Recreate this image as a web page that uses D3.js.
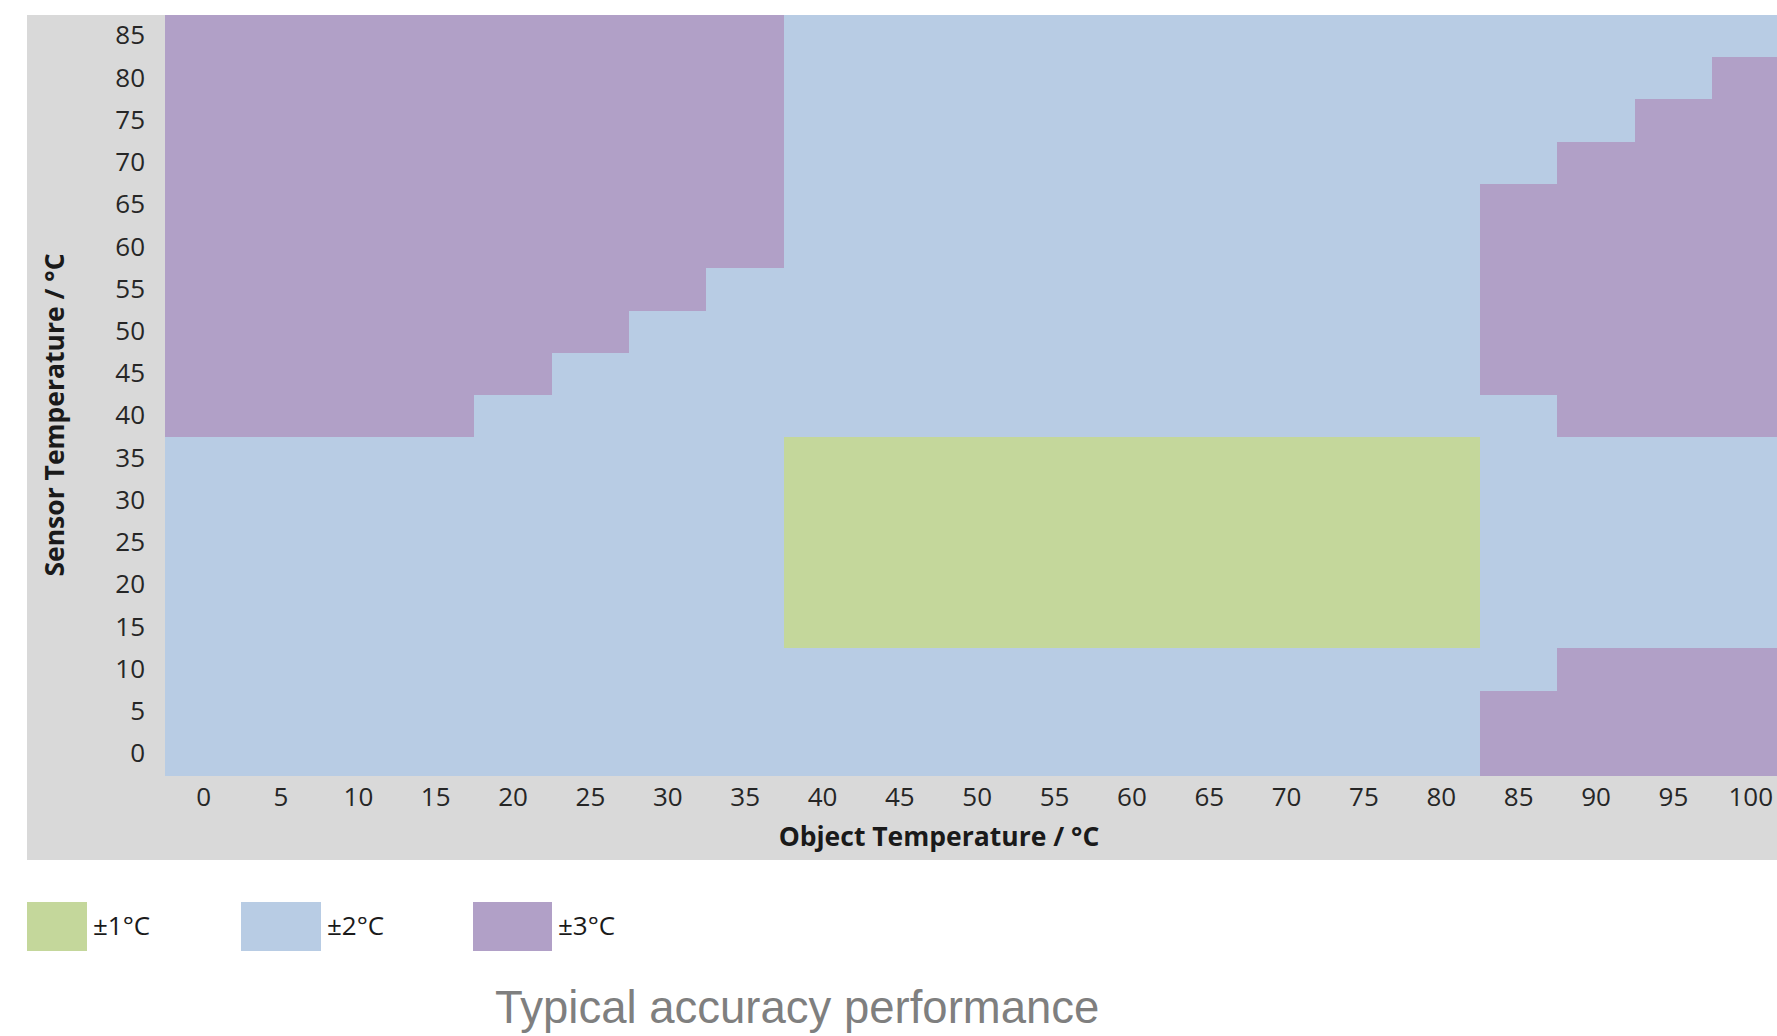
<!DOCTYPE html>
<html>
<head>
<meta charset="utf-8">
<script src="https://cdn.jsdelivr.net/npm/d3@7"></script>
<style>
  body { margin: 0; background: #fff; }
</style>
</head>
<body>
<div class="container"></div>
<script>
var objectTemps = [0, 5, 10, 15, 20, 25, 30, 35, 40, 45, 50, 55, 60, 65, 70, 75, 80, 85, 90, 95, 100];
var sensorTemps = [0, 5, 10, 15, 20, 25, 30, 35, 40, 45, 50, 55, 60, 65, 70, 75, 80, 85];

// accuracy class (1 = ±1°C, 2 = ±2°C, 3 = ±3°C), one row per sensor temperature, top row first
var row85 = [3,3,3,3,3,3,3,3, 2,2,2,2,2,2,2,2,2, 2,2,2,2];
var row80 = [3,3,3,3,3,3,3,3, 2,2,2,2,2,2,2,2,2, 2,2,2,3];
var row75 = [3,3,3,3,3,3,3,3, 2,2,2,2,2,2,2,2,2, 2,2,3,3];
var row70 = [3,3,3,3,3,3,3,3, 2,2,2,2,2,2,2,2,2, 2,3,3,3];
var row65 = [3,3,3,3,3,3,3,3, 2,2,2,2,2,2,2,2,2, 3,3,3,3];
var row60 = [3,3,3,3,3,3,3,3, 2,2,2,2,2,2,2,2,2, 3,3,3,3];
var row55 = [3,3,3,3,3,3,3,2, 2,2,2,2,2,2,2,2,2, 3,3,3,3];
var row50 = [3,3,3,3,3,3,2,2, 2,2,2,2,2,2,2,2,2, 3,3,3,3];
var row45 = [3,3,3,3,3,2,2,2, 2,2,2,2,2,2,2,2,2, 3,3,3,3];
var row40 = [3,3,3,3,2,2,2,2, 2,2,2,2,2,2,2,2,2, 2,3,3,3];
var row35 = [2,2,2,2,2,2,2,2, 1,1,1,1,1,1,1,1,1, 2,2,2,2];
var row30 = [2,2,2,2,2,2,2,2, 1,1,1,1,1,1,1,1,1, 2,2,2,2];
var row25 = [2,2,2,2,2,2,2,2, 1,1,1,1,1,1,1,1,1, 2,2,2,2];
var row20 = [2,2,2,2,2,2,2,2, 1,1,1,1,1,1,1,1,1, 2,2,2,2];
var row15 = [2,2,2,2,2,2,2,2, 1,1,1,1,1,1,1,1,1, 2,2,2,2];
var row10 = [2,2,2,2,2,2,2,2, 2,2,2,2,2,2,2,2,2, 2,3,3,3];
var row5  = [2,2,2,2,2,2,2,2, 2,2,2,2,2,2,2,2,2, 3,3,3,3];
var row0  = [2,2,2,2,2,2,2,2, 2,2,2,2,2,2,2,2,2, 3,3,3,3];

var accuracyRows = [row85, row80, row75, row70, row65, row60, row55, row50, row45,
                    row40, row35, row30, row25, row20, row15, row10, row5, row0];

var legendLabels = ['±1°C', '±2°C', '±3°C'];
var titleText = 'Typical accuracy performance';

buildChart();

function buildChart() {

  /* ===== SET UP CHART =====*/

  var w = 1777, h = 1036;
  var plot = {left: 165, right: 1789.4, top: 15, bottom: 775};
  var colors = {1: '#C4D79B', 2: '#B8CCE4', 3: '#B1A0C7'};

  var svg = d3.select('.container')
    .append('svg')
    .attr('width', w)
    .attr('height', h)
    .style('display', 'block');

  // grey chart area
  svg.append('rect')
    .attr('x', 27)
    .attr('y', 15)
    .attr('width', w - 27)
    .attr('height', 860 - 15)
    .attr('fill', '#D9D9D9');

  var xScale = d3.scaleBand()
    .domain(objectTemps)
    .range([plot.left, plot.right]);

  var yScale = d3.scaleBand()
    .domain(sensorTemps)
    .range([plot.bottom, plot.top]);

  /* ===== CELLS =====*/

  var cells = [];
  accuracyRows.forEach(function(row, i) {
    var s = sensorTemps[sensorTemps.length - 1 - i];
    row.forEach(function(level, j) {
      cells.push({obj: objectTemps[j], sensor: s, level: level});
    });
  });

  svg.append('g')
    .selectAll('rect')
    .data(cells)
    .enter()
    .append('rect')
    .attr('x', function(d) { return xScale(d.obj); })
    .attr('y', function(d) { return yScale(d.sensor); })
    .attr('width', xScale.bandwidth() + 0.6)
    .attr('height', yScale.bandwidth() + 0.6)
    .attr('shape-rendering', 'crispEdges')
    .attr('fill', function(d) { return colors[d.level]; });

  /* ===== AXES =====*/

  var xAxis = d3.axisBottom(xScale).tickSize(0).tickPadding(13);
  var yAxis = d3.axisLeft(yScale).tickSize(0).tickPadding(20);

  var gx = svg.append('g')
    .attr('transform', 'translate(0,' + plot.bottom + ')')
    .call(xAxis);

  var gy = svg.append('g')
    .attr('transform', 'translate(' + plot.left + ',0)')
    .call(yAxis);

  [gx, gy].forEach(function(g) {
    g.select('.domain').remove();
    g.selectAll('text')
      .style('font-family', '"Open Sans", sans-serif')
      .style('font-size', '26px')
      .attr('fill', '#262626');
  });

  /* ===== LABELS =====*/

  svg.append('text')
    .attr('x', 939)
    .attr('y', 837)
    .attr('dy', '0.35em')
    .style('text-anchor', 'middle')
    .style('font-family', '"Open Sans", sans-serif')
    .style('font-weight', 'bold')
    .style('font-size', '26.5px')
    .attr('fill', '#1a1a1a')
    .text('Object Temperature / °C');

  svg.append('text')
    .attr('transform', 'translate(55,415) rotate(-90)')
    .attr('dy', '0.35em')
    .style('text-anchor', 'middle')
    .style('font-family', '"Open Sans", sans-serif')
    .style('font-weight', 'bold')
    .style('font-size', '26.5px')
    .attr('fill', '#1a1a1a')
    .text('Sensor Temperature / °C');

  /* ===== LEGEND =====*/

  var legendBoxes = [{x: 27, w: 60}, {x: 241, w: 80}, {x: 473, w: 79}];

  var legend = svg.selectAll('.legend')
    .data(legendLabels)
    .enter()
    .append('g')
    .attr('class', 'legend');

  legend.append('rect')
    .attr('x', function(d, i) { return legendBoxes[i].x; })
    .attr('y', 902)
    .attr('width', function(d, i) { return legendBoxes[i].w; })
    .attr('height', 49)
    .attr('fill', function(d, i) { return colors[i + 1]; });

  legend.append('text')
    .attr('x', function(d, i) { return legendBoxes[i].x + legendBoxes[i].w + 6; })
    .attr('y', 926)
    .attr('dy', '0.35em')
    .style('font-family', '"Open Sans", sans-serif')
    .style('font-size', '26px')
    .attr('fill', '#1a1a1a')
    .text(function(d) { return d; });

  /* ===== TITLE =====*/

  svg.append('text')
    .attr('x', 495)
    .attr('y', 1023)
    .style('font-family', '"Liberation Sans", Arial, sans-serif')
    .style('font-size', '45.5px')
    .attr('fill', '#7f7f7f')
    .text(titleText);
}
</script>
</body>
</html>
